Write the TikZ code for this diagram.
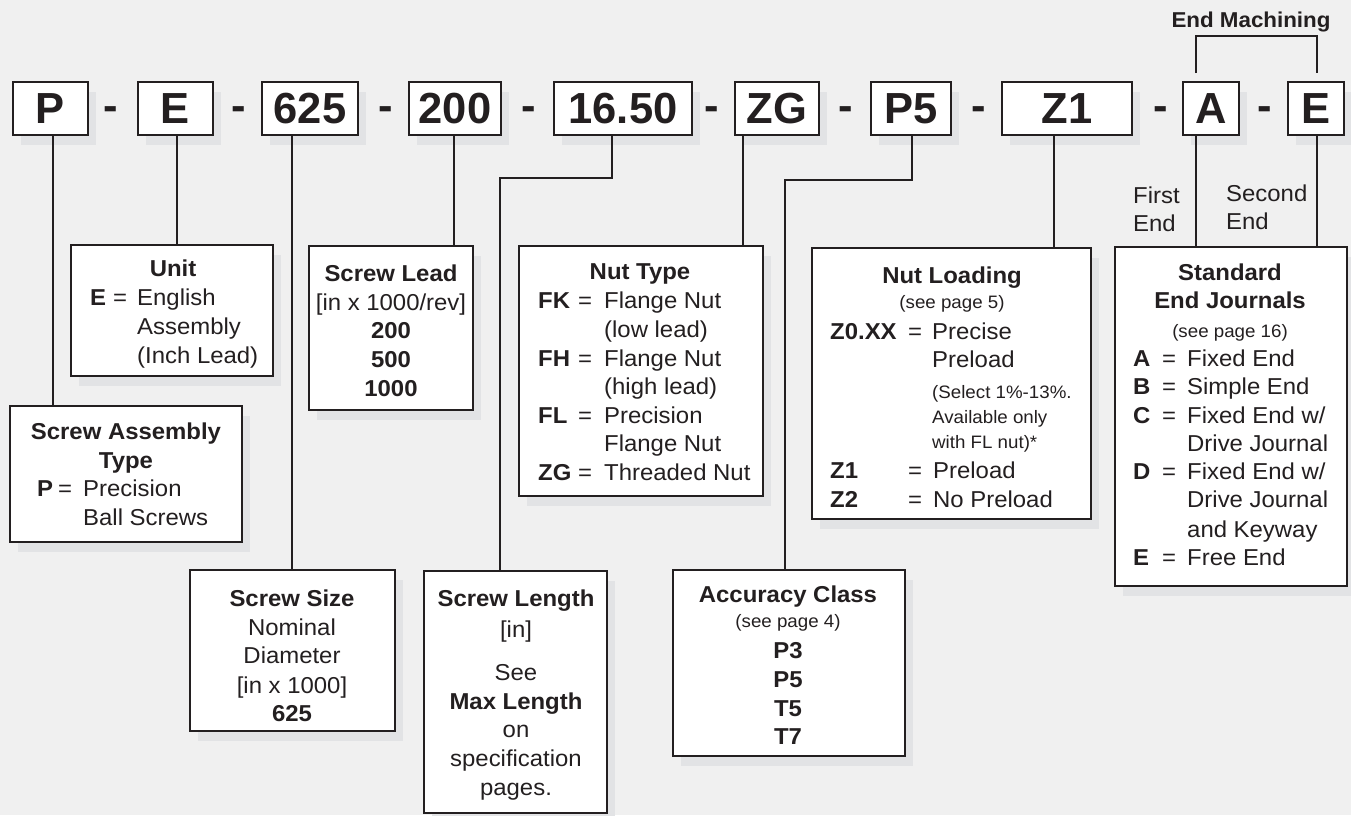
\documentclass[tikz,border=0pt]{standalone}
\usepackage{fontspec}
\setmainfont[FakeStretch=1.04]{Liberation Sans}
\newfontfamily\topfam{Liberation Sans}
\usetikzlibrary{shadows}
\definecolor{bg}{HTML}{F0F0F0}
\definecolor{shd}{HTML}{E2E3E5}
\definecolor{ink}{HTML}{231F20}
\newcommand\mainsz{\fontsize{23}{28}\selectfont}
\newcommand\smallsz{\fontsize{18}{21}\selectfont}
\newcommand\topsz{\topfam\bfseries\fontsize{43.5}{48}\selectfont}
\newcommand\emsz{\bfseries\fontsize{21.5}{24}\selectfont}
\begin{document}
\begin{tikzpicture}[x=1pt,y=-1pt,
  box/.style={draw=ink, line width=2.4pt, fill=white, inner sep=0pt, text=ink,
    drop shadow={shadow xshift=8pt, shadow yshift=-10pt, fill=shd, opacity=1}},
  topbox/.style={box, font=\topsz, minimum height=52.6pt},
  link/.style={draw=ink, line width=1.8pt},
  tx/.style={inner sep=0pt, anchor=base, text=ink, font=\mainsz},
  txl/.style={tx, anchor=base west},
  bf/.style={font=\mainsz\bfseries},
  sm/.style={font=\smallsz},
  hyph/.style={tx, font=\topsz}]
\useasboundingbox (0,0) rectangle (1351,815);
\fill[bg] (0,0) rectangle (1351,815);

% ---- top code row ----
\node[topbox, minimum width=74.6pt]  (tP)    at (50.5,108.5) {P};
\node[topbox, minimum width=74.6pt]  (tE)    at (175.5,108.5) {E};
\node[topbox, minimum width=95.6pt]  (t625)  at (310,108.5) {625};
\node[topbox, minimum width=91.6pt]  (t200)  at (455,108.5) {200};
\node[topbox, minimum width=137.6pt] (t1650) at (623,108.5) {16.50};
\node[topbox, minimum width=83.6pt]  (tZG)   at (777,108.5) {ZG};
\node[topbox, minimum width=79.6pt]  (tP5)   at (911,108.5) {P5};
\node[topbox, minimum width=129.6pt] (tZ1)   at (1067,108.5) {Z1};
\node[topbox, minimum width=55.6pt]  (tA)    at (1211,108.5) {A};
\node[topbox, minimum width=55.6pt]  (tE2)   at (1316,108.5) {E};

\node[hyph] (d1) at (111,120) {-};
\node[hyph] (d2) at (239,120) {-};
\node[hyph] (d3) at (386,120) {-};
\node[hyph] (d4) at (529,120) {-};
\node[hyph] (d5) at (712,120) {-};
\node[hyph] (d6) at (846,120) {-};
\node[hyph] (d7) at (979,120) {-};
\node[hyph] (d8) at (1161,120) {-};
\node[hyph] (d9) at (1265,120) {-};

% ---- End Machining bracket ----
\node[tx, font=\emsz] (emLabel) at (1251,27) {End Machining};
\coordinate (emBar) at (1256,36);

% ---- description boxes ----
\node[box, minimum width=201.6pt, minimum height=130.6pt] (bUnit) at (172,310.5) {};
\node[box, minimum width=231.6pt, minimum height=135.6pt] (bAsm)  at (126,474) {};
\node[box, minimum width=163.6pt, minimum height=163.6pt] (bLead) at (391,328) {};
\node[box, minimum width=243.6pt, minimum height=249.6pt] (bNut)  at (641,371) {};
\node[box, minimum width=278.6pt, minimum height=270.6pt] (bLoad) at (951.5,383.5) {};
\node[box, minimum width=231.6pt, minimum height=338.6pt] (bEnd)  at (1231,416.5) {};
\node[box, minimum width=204.6pt, minimum height=160.6pt] (bSize) at (292.5,650.5) {};
\node[box, minimum width=182.6pt, minimum height=241.6pt] (bLen)  at (515.5,692) {};
\node[box, minimum width=231.6pt, minimum height=185.6pt] (bAcc)  at (789,663) {};

% ---- connector x positions ----
\coordinate (cP) at (53,0);
\coordinate (cE) at (177,0);
\coordinate (c625) at (292,0);
\coordinate (c200) at (454,0);
\coordinate (c1650) at (612,0);
\coordinate (jLen) at (500,178);
\coordinate (cZG) at (743,0);
\coordinate (cP5) at (912,0);
\coordinate (jAcc) at (785,180);
\coordinate (cZ1) at (1054,0);
\coordinate (cA) at (1196,0);
\coordinate (cE2) at (1317,0);

\draw[link] (tP.south -| cP) -- (bAsm.north -| cP);
\draw[link] (tE.south -| cE) -- (bUnit.north -| cE);
\draw[link] (t625.south -| c625) -- (bSize.north -| c625);
\draw[link] (t200.south -| c200) -- (bLead.north -| c200);
\draw[link] (t1650.south -| c1650) |- (jLen) -- (bLen.north -| jLen);
\draw[link] (tZG.south -| cZG) -- (bNut.north -| cZG);
\draw[link] (tP5.south -| cP5) |- (jAcc) -- (bAcc.north -| jAcc);
\draw[link] (tZ1.south -| cZ1) -- (bLoad.north -| cZ1);
\draw[link] (tA.south -| cA) -- (bEnd.north -| cA);
\draw[link] (tE2.south -| cE2) -- (bEnd.north -| cE2);
\draw[link] ([yshift=8pt]tA.north -| cA) |- (emBar) -| ([yshift=8pt]tE2.north -| cE2);

% ---- First / Second End ----
\node[txl] (fe1) at (1133,203) {First};
\node[txl] (fe2) at (1133,231) {End};
\node[txl] (se1) at (1226,201) {Second};
\node[txl] (se2) at (1226,229) {End};

% ---- Unit ----
\node[tx, bf] (uH) at (173,276) {Unit};
\node[txl, bf] (uE) at (90,305) {E};
\node[txl] (uEq) at (113,305) {=};
\node[txl] (u1) at (137,305) {English};
\node[txl] (u2) at (137,334) {Assembly};
\node[txl] (u3) at (137,363) {(Inch Lead)};

% ---- Screw Assembly Type ----
\node[tx, bf] (aH1) at (126,439) {Screw Assembly};
\node[tx, bf] (aH2) at (126,468) {Type};
\node[txl, bf] (aP) at (37,496) {P};
\node[txl] (aEq) at (58,496) {=};
\node[txl] (a1) at (83,496) {Precision};
\node[txl] (a2) at (83,525) {Ball Screws};

% ---- Screw Lead ----
\node[tx, bf] (lH) at (391,281) {Screw Lead};
\node[tx] (l1) at (391,310) {[in x 1000/rev]};
\node[tx, bf] (l2) at (391,338) {200};
\node[tx, bf] (l3) at (391,367) {500};
\node[tx, bf] (l4) at (391,396) {1000};

% ---- Nut Type ----
\node[tx, bf] (nH) at (640,279) {Nut Type};
\node[txl, bf] (nFK) at (538,308) {FK};
\node[txl] (nEq1) at (578,308) {=};
\node[txl] (n1) at (604,308) {Flange Nut};
\node[txl] (n2) at (604,337) {(low lead)};
\node[txl, bf] (nFH) at (538,366) {FH};
\node[txl] (nEq2) at (578,366) {=};
\node[txl] (n3) at (604,366) {Flange Nut};
\node[txl] (n4) at (604,394) {(high lead)};
\node[txl, bf] (nFL) at (538,423) {FL};
\node[txl] (nEq3) at (578,423) {=};
\node[txl] (n5) at (604,423) {Precision};
\node[txl] (n6) at (604,451) {Flange Nut};
\node[txl, bf] (nZG) at (538,480) {ZG};
\node[txl] (nEq4) at (578,480) {=};
\node[txl] (n7) at (604,480) {Threaded Nut};

% ---- Nut Loading ----
\node[tx, bf] (oH) at (952,283) {Nut Loading};
\node[tx, sm] (oS) at (952,308) {(see page 5)};
\node[txl, bf] (oZ0) at (830,339) {Z0.XX};
\node[txl] (oEq1) at (908,339) {=};
\node[txl] (o1) at (932,339) {Precise};
\node[txl] (o2) at (932,367) {Preload};
\node[txl, sm] (o3) at (932,398) {(Select 1\%-13\%.};
\node[txl, sm] (o4) at (932,423) {Available only};
\node[txl, sm] (o5) at (932,448) {with FL nut)*};
\node[txl, bf] (oZ1) at (830,478) {Z1};
\node[txl] (oEq2) at (908,478) {=};
\node[txl] (o6) at (933,478) {Preload};
\node[txl, bf] (oZ2) at (830,507) {Z2};
\node[txl] (oEq3) at (908,507) {=};
\node[txl] (o7) at (933,507) {No Preload};

% ---- Standard End Journals ----
\node[tx, bf] (jH1) at (1230,280) {Standard};
\node[tx, bf] (jH2) at (1230,308) {End Journals};
\node[tx, sm] (jS) at (1230,337) {(see page 16)};
\node[txl, bf] (jA) at (1133,366) {A};
\node[txl] (jEq1) at (1162,366) {=};
\node[txl] (j1) at (1187,366) {Fixed End};
\node[txl, bf] (jB) at (1133,394) {B};
\node[txl] (jEq2) at (1162,394) {=};
\node[txl] (j2) at (1187,394) {Simple End};
\node[txl, bf] (jC) at (1133,423) {C};
\node[txl] (jEq3) at (1162,423) {=};
\node[txl] (j3) at (1187,423) {Fixed End w/};
\node[txl] (j4) at (1187,451) {Drive Journal};
\node[txl, bf] (jD) at (1133,479) {D};
\node[txl] (jEq4) at (1162,479) {=};
\node[txl] (j5) at (1187,479) {Fixed End w/};
\node[txl] (j6) at (1187,507) {Drive Journal};
\node[txl] (j7) at (1187,537) {and Keyway};
\node[txl, bf] (jE) at (1133,565) {E};
\node[txl] (jEq5) at (1162,565) {=};
\node[txl] (j8) at (1187,565) {Free End};

% ---- Screw Size ----
\node[tx, bf] (sH) at (292,606) {Screw Size};
\node[tx] (s1) at (292,635) {Nominal};
\node[tx] (s2) at (292,663) {Diameter};
\node[tx] (s3) at (292,693) {[in x 1000]};
\node[tx, bf] (s4) at (292,721) {625};

% ---- Screw Length ----
\node[tx, bf] (gH) at (516,606) {Screw Length};
\node[tx] (g1) at (516,637) {[in]};
\node[tx] (g2) at (516,680) {See};
\node[tx, bf] (g3) at (516,709) {Max Length};
\node[tx] (g4) at (516,737) {on};
\node[tx] (g5) at (516,766) {specification};
\node[tx] (g6) at (516,795) {pages.};

% ---- Accuracy Class ----
\node[tx, bf] (cH) at (788,602) {Accuracy Class};
\node[tx, sm] (cS) at (788,627) {(see page 4)};
\node[tx, bf] (c1) at (788,658) {P3};
\node[tx, bf] (c2) at (788,687) {P5};
\node[tx, bf] (c3) at (788,716) {T5};
\node[tx, bf] (c4) at (788,744) {T7};
\end{tikzpicture}
\end{document}
